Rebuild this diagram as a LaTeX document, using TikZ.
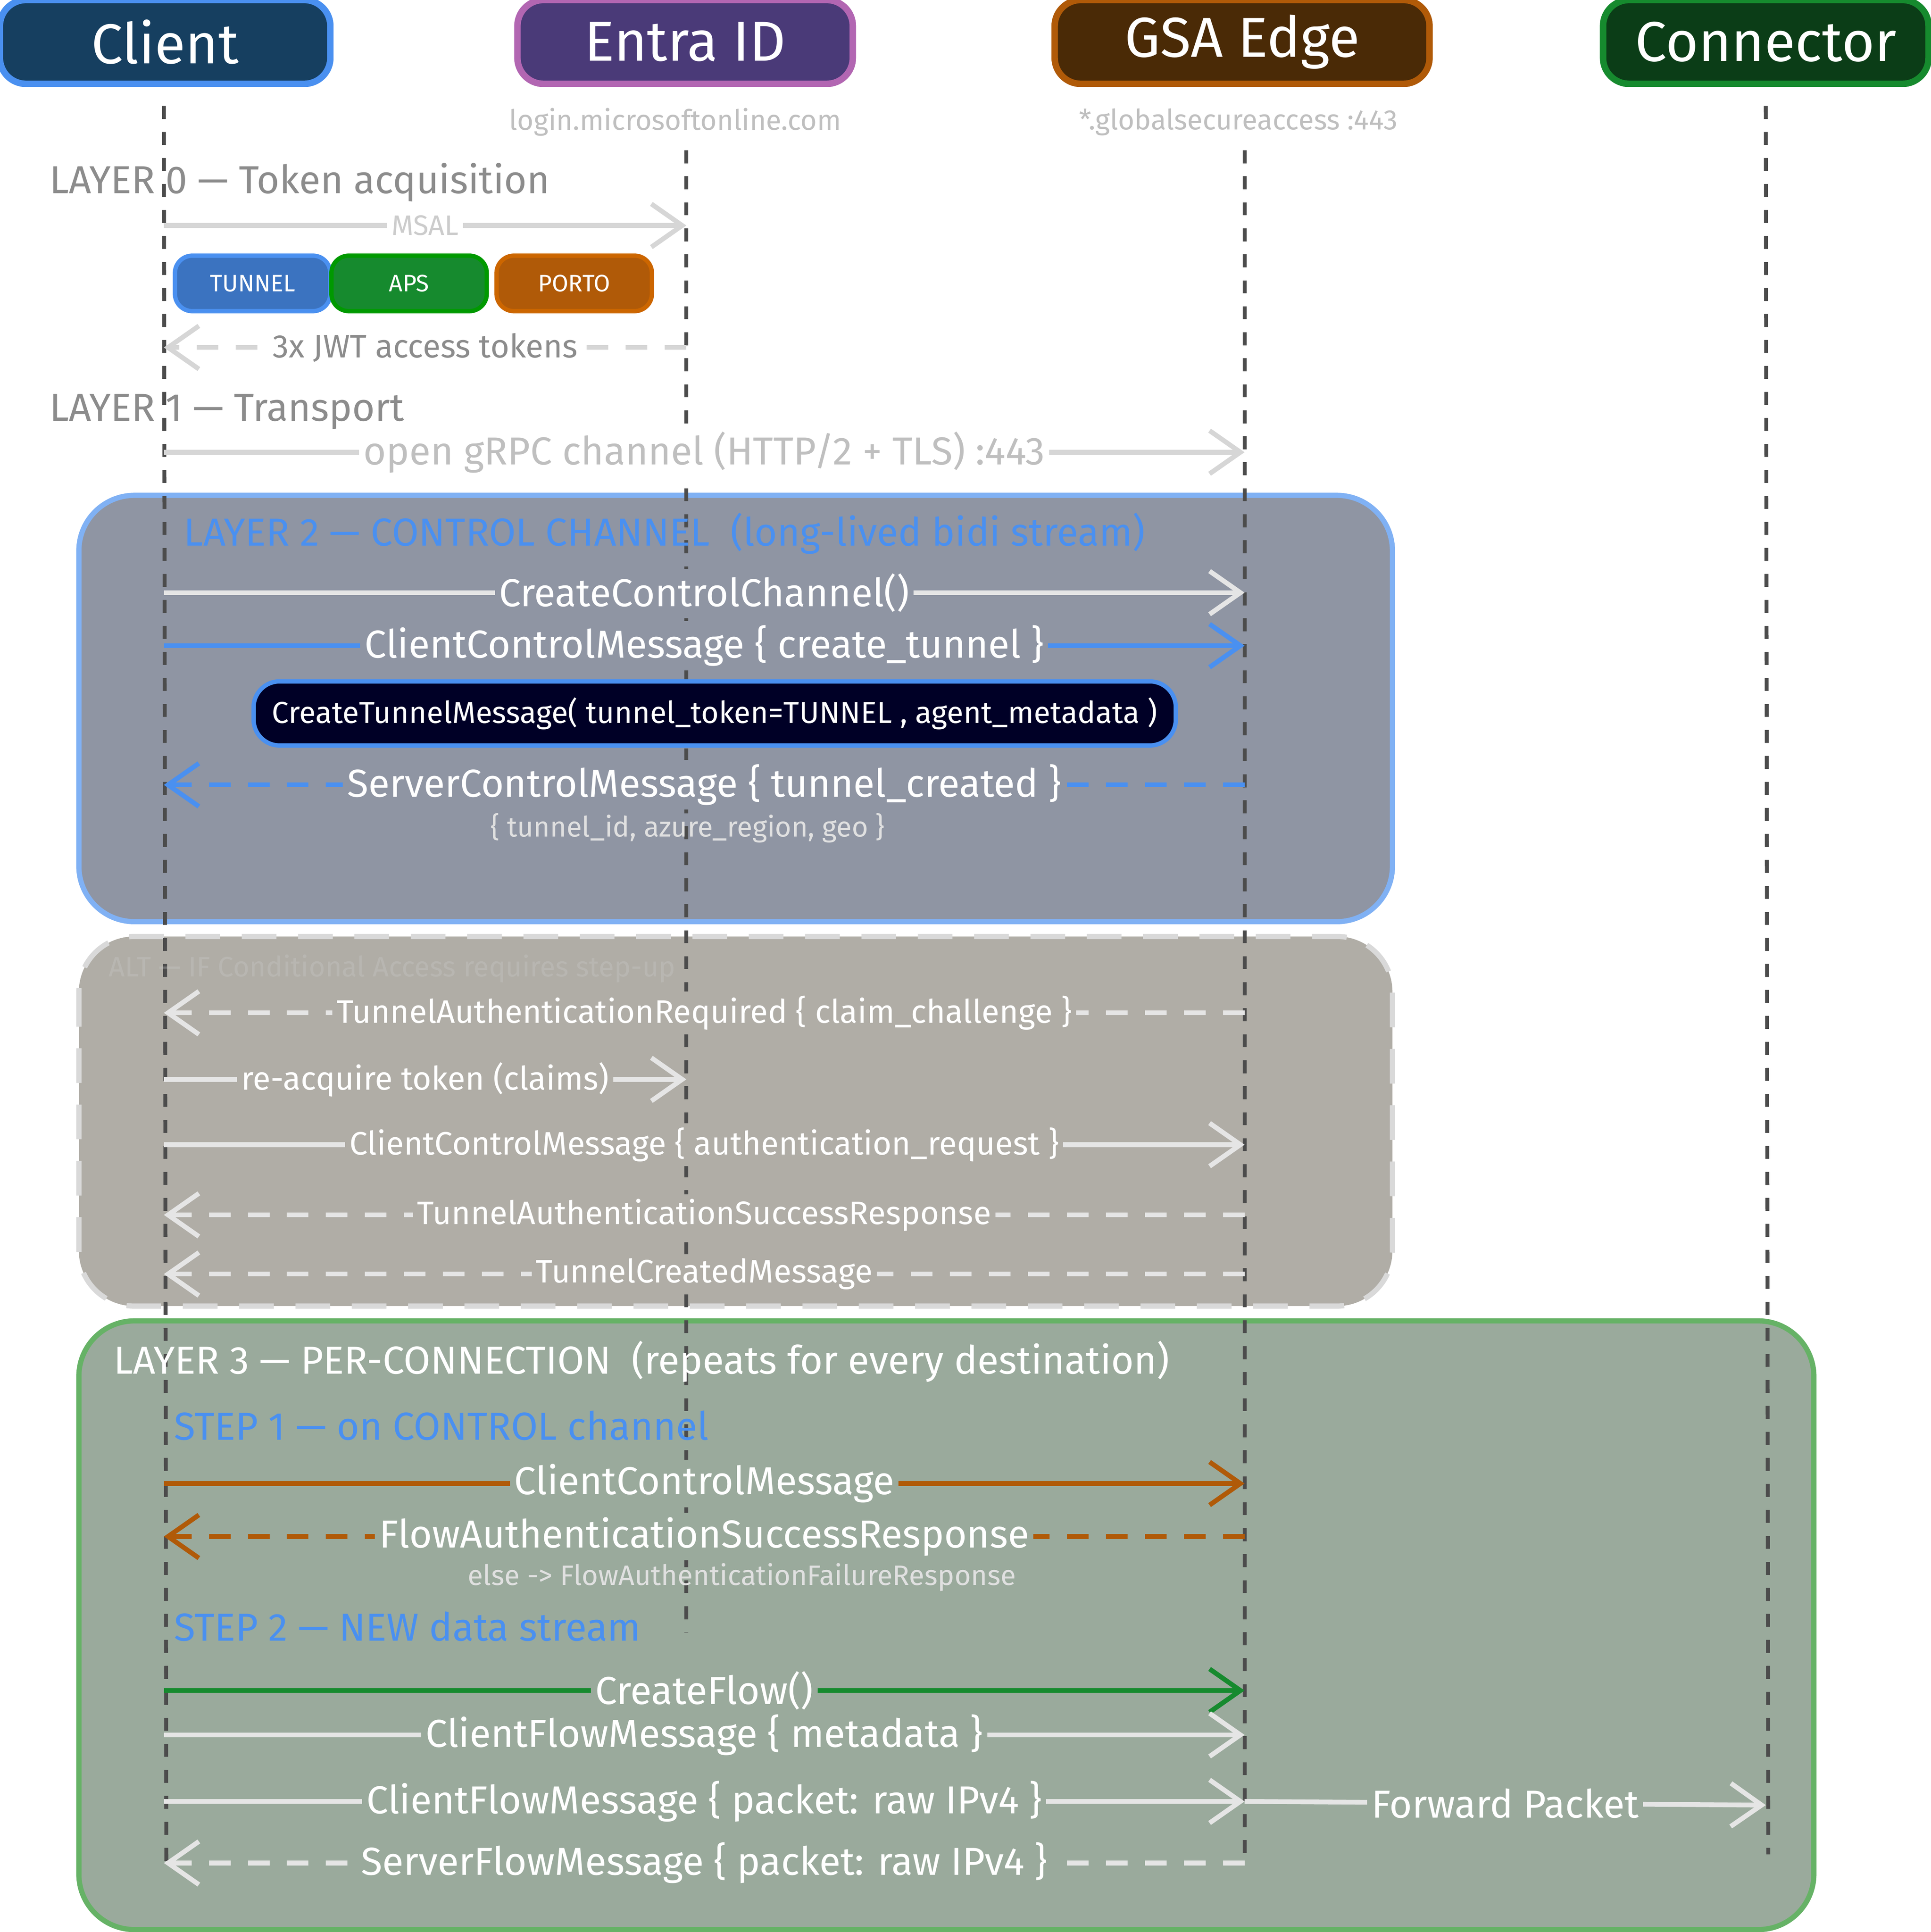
\documentclass[tikz,border=0pt]{standalone}
\usepackage{fontspec}
\setmainfont{Fira Sans}
\usetikzlibrary{arrows.meta}
\definecolor{hdblue}{HTML}{163F60}
\definecolor{hdpurple}{HTML}{4A3A78}
\definecolor{hdbrown}{HTML}{4A2A06}
\definecolor{hdgreen}{HTML}{0B3D17}
\definecolor{msggray}{HTML}{D6D6D6}
\definecolor{lblue}{HTML}{4A90F0}
\definecolor{lorange}{HTML}{B05A08}
\definecolor{lgreen}{HTML}{168A2E}
\definecolor{fillctl}{HTML}{8F95A3}
\definecolor{fillalt}{HTML}{B0ADA6}
\definecolor{fillcon}{HTML}{9AAA9C}
\tikzset{
  head/.style={draw, line width=1.5pt, rounded corners=6pt, minimum width=#1, minimum height=0.68cm, text=white, font=\fontsize{13}{14}\selectfont},
  life/.style={dashed, line width=0.9pt, draw=black!70},
  msg/.style={-{Straight Barb[length=2.5mm,width=3.5mm]}, line width=1.1pt, draw=msggray},
  ret/.style={msg, dash pattern=on 5pt off 4pt},
  lbl/.style={inner sep=1pt, font=\fontsize{9}{10}\selectfont},
  small/.style={inner sep=1pt, font=\fontsize{6.5}{7}\selectfont},
  mid/.style={inner sep=1pt, font=\fontsize{7.5}{8}\selectfont},
  tok/.style={draw, line width=1pt, rounded corners=4pt, minimum width=1.26cm, minimum height=0.45cm, text=white, font=\fontsize{5.5}{6}\selectfont},
  layer/.style={rounded corners=0.45cm, line width=1.2pt}
}
\begin{document}
\begin{tikzpicture}[x=0.01cm, y=-0.01cm]
  \useasboundingbox (0,0) rectangle (1567,1568);
  \fill[white] (0,0) rectangle (1567,1568);

  % layer boxes
  \draw[layer, fill=fillctl, draw=lblue!70] (64,402) rectangle (1130,748);
  \draw[layer, fill=fillalt, draw=black!15, dash pattern=on 8pt off 5pt] (64,760) rectangle (1130,1060);
  \draw[layer, fill=fillcon, draw=green!50!black!60] (64,1072) rectangle (1472,1566);

  % participants
  \node[head=2.68cm, fill=hdblue, draw=lblue] (client) at (134,34) {Client};
  \node[head=2.72cm, fill=hdpurple, draw=violet!60] (entra) at (556,34) {Entra ID};
  \node[head=3.04cm, fill=hdbrown, draw=lorange] (gsa) at (1008,34) {GSA Edge};
  \node[head=2.64cm, fill=hdgreen, draw=lgreen] (conn) at (1433,34) {Connector};
  \node[small, text=black!25] (entrahost) at (548,99) {login.microsoftonline.com};
  \node[small, text=black!25] (gsahost) at (1005,99) {*.globalsecureaccess :443};

  % lifelines
  \coordinate (cTop) at (133,86);  \coordinate (cBot) at (135,1512);
  \coordinate (eTop) at (557,122); \coordinate (eBot) at (557,1325);
  \coordinate (gTop) at (1010,122); \coordinate (gBot) at (1010,1512);
  \coordinate (kTop) at (1433,86); \coordinate (kBot) at (1435,1505);
  \draw[life] (cTop) -- (cBot);
  \draw[life] (eTop) -- (eBot);
  \draw[life] (gTop) -- (gBot);
  \draw[life] (kTop) -- (kBot);

  % layer 0
  \node[lbl, anchor=west, text=black!45] (l0) at (36,148) {LAYER 0 — Token acquisition};
  \coordinate (c0) at (133,183); \coordinate (e0) at (557,183);
  \draw[msg] (c0) -- node[small, text=black!20, fill=white] {MSAL} (e0);
  \node[tok, fill=lblue!80!black, draw=lblue] (ttun) at (205,230) {TUNNEL};
  \node[tok, fill=lgreen, draw=green!60!black] (taps) at (332,230) {APS};
  \node[tok, fill=lorange, draw=orange!80!black] (tporto) at (466,230) {PORTO};
  \coordinate (c1) at (133,282); \coordinate (e1) at (557,282);
  \draw[ret] (e1) -- node[mid, text=black!45, fill=white] {3x JWT access tokens} (c1);

  % layer 1
  \node[lbl, anchor=west, text=black!45] (l1) at (36,334) {LAYER 1 — Transport};
  \coordinate (c2) at (133,367); \coordinate (g2) at (1010,367);
  \draw[msg] (c2) -- node[lbl, text=black!25, fill=white] {open gRPC channel (HTTP/2 + TLS) :443} (g2);

  % layer 2
  \node[lbl, anchor=west, text=lblue] (l2) at (145,433) {LAYER 2 — CONTROL CHANNEL\ \ (long-lived bidi stream)};
  \coordinate (c3) at (133,481); \coordinate (g3) at (1010,481);
  \draw[msg, draw=black!10] (c3) -- node[lbl, text=white, fill=fillctl] {CreateControlChannel()} (g3);
  \coordinate (c4) at (133,524); \coordinate (g4) at (1010,524);
  \draw[msg, draw=lblue] (c4) -- node[lbl, text=white, fill=fillctl] {ClientControlMessage \{ create\_tunnel \}} (g4);
  \node[draw=lblue, line width=1pt, fill=black!85!blue, rounded corners=6pt, text=white, minimum width=7.48cm, minimum height=0.52cm, font=\fontsize{7}{8}\selectfont] (ctm) at (580,579) {CreateTunnelMessage( tunnel\_token=TUNNEL , agent\_metadata )};
  \coordinate (c5) at (133,637); \coordinate (g5) at (1010,637);
  \draw[ret, draw=lblue] (g5) -- node[lbl, text=white, fill=fillctl] {ServerControlMessage \{ tunnel\_created \}} (c5);
  \node[small, text=black!12] (tcinfo) at (558,672) {\{ tunnel\_id, azure\_region, geo \}};

  % alt
  \node[small, anchor=west, text=black!20, opacity=0.3] (alt) at (84,786) {ALT — IF Conditional Access requires step-up};
  \coordinate (c6) at (133,822); \coordinate (g6) at (1010,822);
  \draw[ret, draw=black!10] (g6) -- node[mid, text=white, fill=fillalt] {TunnelAuthenticationRequired \{ claim\_challenge \}} (c6);
  \coordinate (c7) at (133,876); \coordinate (e7) at (557,876);
  \draw[msg, draw=black!10] (c7) -- node[mid, text=white, fill=fillalt] {re-acquire token (claims)} (e7);
  \coordinate (c8) at (133,929); \coordinate (g8) at (1010,929);
  \draw[msg, draw=black!10] (c8) -- node[mid, text=white, fill=fillalt] {ClientControlMessage \{ authentication\_request \}} (g8);
  \coordinate (c9) at (133,986); \coordinate (g9) at (1010,986);
  \draw[ret, draw=black!10] (g9) -- node[mid, text=white, fill=fillalt] {TunnelAuthenticationSuccessResponse} (c9);
  \coordinate (c10) at (133,1034); \coordinate (g10) at (1010,1034);
  \draw[ret, draw=black!10] (g10) -- node[mid, text=white, fill=fillalt] {TunnelCreatedMessage} (c10);

  % layer 3
  \node[lbl, anchor=west, text=white] (l3) at (88,1105) {LAYER 3 — PER-CONNECTION\ \ (repeats for every destination)};
  \node[lbl, anchor=west, text=lblue] (s1) at (137,1157) {STEP 1 — on CONTROL channel};
  \coordinate (c11) at (133,1204); \coordinate (g11) at (1010,1204);
  \draw[msg, draw=lorange] (c11) -- node[lbl, text=white, fill=fillcon] {ClientControlMessage} (g11);
  \coordinate (c12) at (133,1247); \coordinate (g12) at (1010,1247);
  \draw[ret, draw=lorange] (g12) -- node[lbl, text=white, fill=fillcon] {FlowAuthenticationSuccessResponse} (c12);
  \node[small, text=black!12] (fail) at (602,1280) {else -> FlowAuthenticationFailureResponse};
  \node[lbl, anchor=west, text=lblue] (s2) at (137,1320) {STEP 2 — NEW data stream};
  \coordinate (c13) at (133,1372); \coordinate (g13) at (1010,1372);
  \draw[msg, draw=lgreen] (c13) -- node[lbl, text=white, fill=fillcon] {CreateFlow()} (g13);
  \coordinate (c14) at (133,1408); \coordinate (g14) at (1010,1408);
  \draw[msg, draw=black!10] (c14) -- node[lbl, text=white, fill=fillcon] {ClientFlowMessage \{ metadata \}} (g14);
  \coordinate (c15) at (133,1462); \coordinate (g15) at (1010,1462);
  \draw[msg, draw=black!10] (c15) -- node[lbl, text=white, fill=fillcon] {ClientFlowMessage \{ packet: raw IPv4 \}} (g15);
  \coordinate (k15) at (1433,1465);
  \draw[msg, draw=black!10] (g15) -- node[lbl, text=white, fill=fillcon] {Forward Packet} (k15);
  \coordinate (c16) at (133,1512); \coordinate (g16) at (1010,1512);
  \draw[ret, draw=black!10] (g16) -- node[lbl, text=white, fill=fillcon] {ServerFlowMessage \{ packet: raw IPv4 \}} (c16);
\end{tikzpicture}
\end{document}
